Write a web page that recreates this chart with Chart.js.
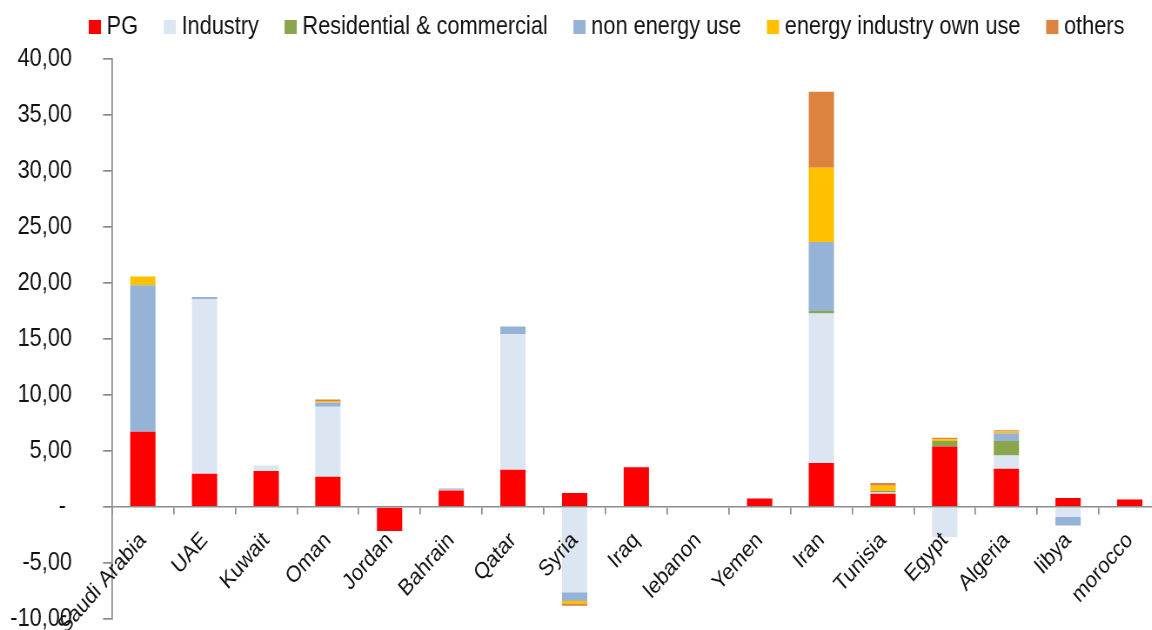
<!DOCTYPE html>
<html>
<head>
<meta charset="utf-8">
<script src="https://cdn.jsdelivr.net/npm/chart.js@4.4.1/dist/chart.umd.min.js"></script>
<style>
  html, body { margin: 0; padding: 0; background: #ffffff; overflow: hidden; }
  #wrap { width: 1152px; height: 630px; overflow: hidden; }
  canvas { display: block; transform-origin: 0 0; }
</style>
</head>
<body>
<div id="wrap"><canvas id="chart"></canvas></div>
<script>
// Natural gas consumption change by sector and country
const countries = ['Saudi Arabia', 'UAE', 'Kuwait', 'Oman', 'Jordan', 'Bahrain', 'Qatar', 'Syria',
  'Iraq', 'lebanon', 'Yemen', 'Iran', 'Tunisia', 'Egypt', 'Algeria', 'libya', 'morocco'];

const pg          = [6.71, 2.97, 3.21, 2.71, -2.14, 1.48, 3.32, 1.25, 3.56, 0, 0.75, 3.92, 1.19, 5.40, 3.41, 0.80, 0.68];
const industry    = [0, 15.61, 0.50, 6.23, 0, 0.06, 12.11, -7.62, 0.05, 0, 0, 13.36, 0.11, -2.67, 1.19, -0.89, 0.05];
const residential = [0, 0, 0, 0, 0, 0, 0, 0, 0, 0, 0, 0.23, 0.15, 0.50, 1.30, 0, 0];
const nonEnergy   = [13.09, 0.18, 0, 0.38, 0, 0.12, 0.69, -0.78, 0, 0, 0, 6.14, 0, 0, 0.69, -0.77, 0];
const ownUse      = [0.77, 0, 0, 0.15, 0, 0, 0, -0.26, 0, 0, 0, 6.63, 0.45, 0.16, 0.15, 0, 0];
const others      = [0, 0, 0, 0.12, 0, 0, 0, -0.15, 0, 0, 0, 6.79, 0.24, 0.12, 0.12, 0, 0];

const seriesNames = ['PG', 'Industry', 'Residential & commercial', 'non energy use', 'energy industry own use', 'others'];
const yTicks = [-10, -5, 0, 5, 10, 15, 20, 25, 30, 35, 40];

// The chart is drawn on a wider canvas and squeezed horizontally,
// which gives the narrow lettering and steep slanted category labels.
const SQUEEZE = 0.87;
const PLOT_LEFT = 112;      // y axis line (display px)
const PLOT_RIGHT = 1161;    // right end of the category axis (display px)
const HEIGHT = 630;

const FONT = "'Liberation Sans', Arial, sans-serif";
const FONT_SIZE = 25;
const X_FONT_SIZE = 23;
const AXIS_GREY = '#8c8c8c';
const TEXT = '#111111';

const colours = ['#ff0000', '#dce6f2', '#8aa54c', '#95b3d7', '#ffc000', '#dc843f'];
const values = [pg, industry, residential, nonEnergy, ownUse, others];

const canvas = document.getElementById('chart');
const canvasWidth = Math.round(PLOT_RIGHT / SQUEEZE);
canvas.width = canvasWidth;
canvas.height = HEIGHT;
canvas.style.width = canvasWidth + 'px';
canvas.style.height = HEIGHT + 'px';
canvas.style.transform = 'scaleX(' + SQUEEZE + ')';

const datasets = seriesNames.map((name, i) => ({
  label: name,
  data: values[i],
  backgroundColor: colours[i],
  borderWidth: 0,
  barPercentage: 0.41,
  categoryPercentage: 1.0
}));

// Places the legend row along the top of the plot
const LEGEND_TEXT_X = 106.6;  // start of the first legend text (display px)
const LEGEND_MID_Y = 27;
const legendPlacement = {
  id: 'legendPlacement',
  afterLayout(chart) {
    const lg = chart.legend;
    if (!lg) return;
    const o = lg.options.labels;
    const firstText = lg.left + o.padding + o.boxWidth + FONT_SIZE / 2;
    const dx = LEGEND_TEXT_X / SQUEEZE - firstText;
    const dy = LEGEND_MID_Y - (lg.top + o.padding + FONT_SIZE / 2);
    lg.left += dx; lg.right += dx;
    lg.top += dy; lg.bottom += dy;
  }
};

new Chart(canvas, {
  type: 'bar',
  data: { labels: countries, datasets },
  plugins: [legendPlacement],
  options: {
    responsive: false,
    animation: false,
    devicePixelRatio: 1,
    layout: { padding: { top: -40, left: 0, right: 0, bottom: 0 } },
    plugins: {
      tooltip: { enabled: false },
      legend: {
        position: 'top',
        align: 'start',
        labels: {
          color: TEXT,
          font: { family: FONT, size: FONT_SIZE },
          boxWidth: 2,
          boxHeight: 2,
          padding: 35.5,
          generateLabels(chart) {
            const items = Chart.defaults.plugins.legend.labels.generateLabels(chart);
            items.forEach(it => {
              it.strokeStyle = it.fillStyle;
              it.lineWidth = 12;
              it.lineJoin = 'miter';
            });
            return items;
          }
        }
      }
    },
    scales: {
      x: {
        stacked: true,
        position: { y: 0 },
        grid: {
          offset: true,
          drawOnChartArea: false,
          drawTicks: true,
          tickLength: 7,
          color: AXIS_GREY,
          lineWidth: 1.5 / SQUEEZE
        },
        border: { display: true, color: AXIS_GREY, width: 1.5, z: 1 },
        ticks: {
          color: TEXT,
          font: { family: FONT, size: X_FONT_SIZE },
          minRotation: 45,
          maxRotation: 45,
          autoSkip: false,
          padding: 13,
          z: 1
        },
        afterFit(scale) {
          scale.paddingLeft = 0;
          scale.paddingRight = 0;
        }
      },
      y: {
        stacked: true,
        min: -10,
        max: 40,
        grid: {
          drawOnChartArea: false,
          drawTicks: true,
          tickLength: 9 / SQUEEZE,
          color: AXIS_GREY,
          lineWidth: 1.5 / SQUEEZE
        },
        border: { display: true, color: AXIS_GREY, width: 1.5 / SQUEEZE },
        afterBuildTicks(scale) {
          scale.ticks = yTicks.map(v => ({ value: v }));
        },
        ticks: {
          color: TEXT,
          font: { family: FONT, size: FONT_SIZE, lineHeight: 0.8 },
          padding: (PLOT_LEFT - 9 - 72) / SQUEEZE,
          callback(value) {
            return value === 0 ? '- ' : value.toFixed(2).replace('.', ',');
          }
        },
        afterFit(scale) {
          scale.width = PLOT_LEFT / SQUEEZE;
          scale.paddingTop = 59;
          scale.paddingBottom = 11;
        }
      }
    }
  }
});
</script>
</body>
</html>
